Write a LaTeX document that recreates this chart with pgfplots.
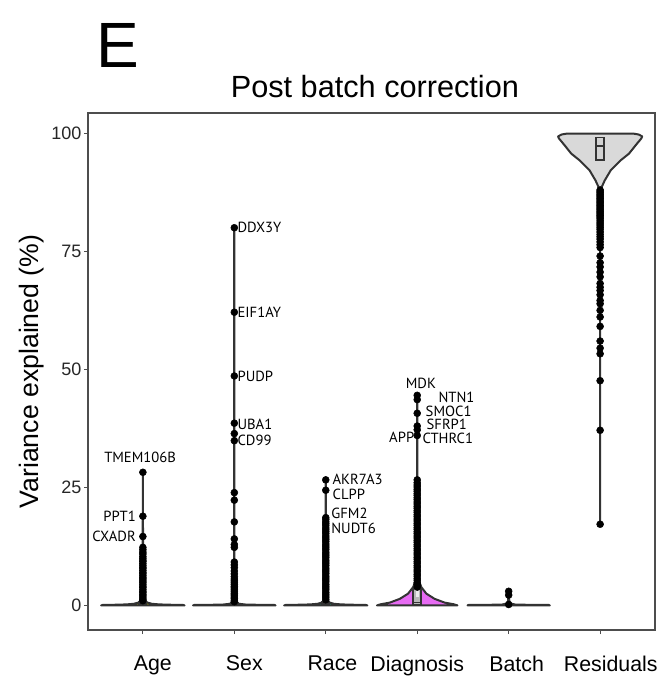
\documentclass[border=0pt]{standalone}
\usepackage{pgfplots}
\pgfplotsset{compat=1.18}
\usepackage{fontspec}
\setmainfont{Liberation Sans}
\newfontfamily\genefont{PT Sans}

\definecolor{vAge}{HTML}{A3A500}
\definecolor{vSex}{HTML}{F8766D}
\definecolor{vRace}{HTML}{00BF7D}
\definecolor{vBatch}{HTML}{00B0F6}
\definecolor{vDiag}{HTML}{E76BF3}
\definecolor{vRes}{HTML}{D9D9D9}
\definecolor{edge}{HTML}{333333}
\definecolor{frame}{HTML}{4D4D4D}

\tikzset{
  gene/.style={font=\genefont\fontsize{11}{12}\selectfont, inner sep=0pt},
  violin/.style={draw=edge, line width=1.5pt, line join=round},
}
\pgfplotsset{
  pts/.style={only marks, mark=*, mark size=2.6pt, mark options={fill=black, draw=black}},
}

\begin{document}
\begin{tikzpicture}
\path[use as bounding box] (0pt,0pt) rectangle (494.25pt,509.25pt);
\begin{axis}[
  at={(66pt,36.75pt)}, anchor=south west,
  scale only axis, width=425.25pt, height=387.75pt,
  xmin=0.4, xmax=6.6, ymin=-5.2, ymax=104.3,
  xtick={1,2,3,4,5,6},
  xticklabels={\kern15pt Age,\kern15pt Sex,\kern10pt Race,Diagnosis,\kern12pt Batch,\kern16pt Residuals},
  ytick={0,25,50,75,100},
  xtick pos=bottom, ytick pos=left,
  /pgf/number format/assume math mode=true,
  tick align=outside, major tick length=3pt,
  tick style={frame, line width=0.8pt},
  axis line style={frame, line width=0.9pt},
  xticklabel style={font=\fontsize{16}{19}\selectfont, text=black, yshift=-13pt},
  yticklabel style={font=\fontsize{13.5}{16}\selectfont, text=black!85, xshift=1.5pt},
  ylabel={Variance explained (\%)},
  ylabel style={font=\fontsize{20}{24}\selectfont, at={(axis description cs:-0.099,0.5)}, anchor=center},
  title={Post batch correction},
  title style={font=\fontsize{23}{27}\selectfont, at={(axis description cs:0.506,1.035)}, anchor=center},
  clip=false,
]

% violins
\addplot[violin, fill=vAge] coordinates {
 (0.544,0) (0.56,0.1) (0.7,0.15) (0.82,0.22) (0.9,0.35) (0.95,0.6) (0.975,1.0)
 (0.988,1.6) (0.995,2.6) (0.998,5) (0.9992,28.2) (1.0008,28.2) (1.002,5)
 (1.005,2.6) (1.012,1.6) (1.025,1.0) (1.05,0.6) (1.1,0.35) (1.18,0.22)
 (1.3,0.15) (1.44,0.1) (1.456,0)} --cycle;
\addplot[violin, fill=vSex] coordinates {
 (1.549,0) (1.56,0.1) (1.75,0.14) (1.88,0.2) (1.95,0.35) (1.98,0.7)
 (1.993,1.5) (1.998,4) (1.9992,80.0) (2.0008,80.0) (2.002,4) (2.007,1.5)
 (2.02,0.7) (2.05,0.35) (2.12,0.2) (2.25,0.14) (2.44,0.1) (2.451,0)} --cycle;
\addplot[violin, fill=vRace] coordinates {
 (2.545,0) (2.56,0.1) (2.7,0.15) (2.83,0.22) (2.91,0.35) (2.955,0.6) (2.978,1.0)
 (2.99,1.6) (2.996,2.6) (2.998,5) (2.9992,26.6) (3.0008,26.6) (3.002,5)
 (3.004,2.6) (3.01,1.6) (3.022,1.0) (3.045,0.6) (3.09,0.35) (3.17,0.22)
 (3.3,0.15) (3.44,0.1) (3.455,0)} --cycle;
\addplot[violin, fill=vDiag] coordinates {
 (3.56,0) (3.6,0.25) (3.7,0.6) (3.81,1.4) (3.9,2.5) (3.956,3.9) (3.985,5.5)
 (3.995,6.7) (3.998,10) (3.9992,44.5) (4.0008,44.5) (4.002,10) (4.005,6.7)
 (4.015,5.5) (4.044,3.9) (4.1,2.5) (4.19,1.4) (4.3,0.6) (4.4,0.25) (4.44,0)} --cycle;
\addplot[violin, fill=vBatch] coordinates {
 (4.55,0) (4.56,0.1) (4.8,0.14) (4.93,0.2) (4.975,0.4) (4.993,0.9)
 (4.9985,3.0) (5.0015,3.0) (5.007,0.9) (5.025,0.4) (5.07,0.2) (5.2,0.14)
 (5.44,0.1) (5.45,0)} --cycle;
\addplot[violin, fill=vRes] coordinates {
 (5.9992,17.2) (5.999,87.0) (5.99,88.3) (5.95,90.0) (5.883,92.2) (5.774,94.3)
 (5.684,95.7) (5.61,97.5) (5.55,98.9) (5.54,99.35) (5.58,99.75) (5.64,99.95)
 (6.36,99.95) (6.42,99.75) (6.46,99.35) (6.45,98.9) (6.39,97.5) (6.316,95.7)
 (6.226,94.3) (6.117,92.2) (6.05,90.0) (6.01,88.3) (6.001,87.0) (6.0008,17.2)} --cycle;

% boxes
\addplot[draw=edge, fill=edge, line width=0.8pt] coordinates {(0.958,0) (1.042,0) (1.042,0.8) (0.958,0.8)} --cycle;
\addplot[draw=edge, fill=edge, line width=0.8pt] coordinates {(1.958,0) (2.042,0) (2.042,0.6) (1.958,0.6)} --cycle;
\addplot[draw=edge, fill=edge, line width=0.8pt] coordinates {(2.958,0) (3.042,0) (3.042,0.8) (2.958,0.8)} --cycle;
\addplot[draw=edge, fill=gray!55, line width=1.3pt] coordinates {(3.955,0.1) (4.045,0.1) (4.045,3.6) (3.955,3.6)} --cycle;
\addplot[draw=none, fill=gray!15] coordinates {(3.982,1.8) (4.018,1.8) (4.018,3.0) (3.982,3.0)} --cycle;
\addplot[draw=edge, line width=1.3pt] coordinates {(3.955,0.6) (4.045,0.6)};
\addplot[draw=edge, fill=gray!35, line width=1.3pt] coordinates {(5.956,94.3) (6.044,94.3) (6.044,99.1) (5.956,99.1)} --cycle;
\addplot[draw=edge, line width=1.3pt] coordinates {(5.956,97.3) (6.044,97.3)};

% outlying genes
\addplot[pts] coordinates {
 (1,28.2) (1,18.9) (1,14.6) (1,12.3) (1,11.8) (1,11.3) (1,10.9) (1,10.4) (1,10.0)
 (1,9.6) (1,9.3) (1,8.9) (1,8.5) (1,8.1) (1,7.8) (1,7.4) (1,7.0) (1,6.7) (1,6.3)
 (1,5.9) (1,5.6) (1,5.2) (1,4.9) (1,4.5) (1,4.1) (1,3.8) (1,3.4) (1,3.0) (1,2.7)
 (1,2.3) (1,2.0) (1,1.6) (1,1.3) (1,1.0)};
\addplot[pts] coordinates {
 (2,80.0) (2,62.1) (2,48.6) (2,38.6) (2,36.4) (2,34.9) (2,23.9) (2,22.3) (2,17.7)
 (2,14.1) (2,12.9) (2,12.3) (2,9.2) (2,8.6) (2,8.0) (2,7.3) (2,6.7) (2,6.1) (2,5.6)
 (2,5.2) (2,4.8) (2,4.4) (2,4.0) (2,3.7) (2,3.3) (2,2.9) (2,2.5) (2,2.2) (2,1.8)
 (2,1.5) (2,1.1) (2,0.8)};
\addplot[pts] coordinates {
 (3,26.6) (3,24.4) (3,18.6) (3,18.2) (3,17.7) (3,17.3) (3,16.9) (3,16.4) (3,16.0)
 (3,15.6) (3,15.2) (3,14.7) (3,14.3) (3,13.9) (3,13.5) (3,13.0) (3,12.6) (3,12.2)
 (3,11.8) (3,11.3) (3,10.9) (3,10.5) (3,10.1) (3,9.6) (3,9.2) (3,8.8) (3,8.4) (3,7.9)
 (3,7.5) (3,7.1) (3,6.7) (3,6.2) (3,5.8) (3,5.4) (3,5.0) (3,4.5) (3,4.1) (3,3.7)
 (3,3.3) (3,2.8) (3,2.4) (3,2.0) (3,1.6) (3,1.2)};
\addplot[pts] coordinates {
 (4,44.5) (4,43.6) (4,40.7) (4,38.0) (4,37.2) (4,36.0) (4,26.6) (4,26.0) (4,25.5)
 (4,25.1) (4,24.6) (4,24.2) (4,23.7) (4,23.3) (4,22.8) (4,22.4) (4,21.9) (4,21.5)
 (4,21.0) (4,20.6) (4,20.1) (4,19.7) (4,19.2) (4,18.8) (4,18.3) (4,17.9) (4,17.4)
 (4,17.0) (4,16.5) (4,16.1) (4,15.6) (4,15.2) (4,14.7) (4,14.3) (4,13.8) (4,13.4)
 (4,12.9) (4,12.5) (4,12.0) (4,11.6) (4,11.1) (4,10.7) (4,10.2) (4,9.8) (4,9.3)
 (4,8.9) (4,8.4) (4,8.0) (4,7.5) (4,7.1) (4,6.6) (4,6.2) (4,5.7) (4,5.3) (4,4.8)
 (4,4.4) (4,3.9)};
\addplot[pts] coordinates {(5,3.0) (5,2.2) (5,0.2)};
\addplot[pts] coordinates {
 (6,88.0) (6,87.7) (6,87.4) (6,87.1) (6,86.8) (6,86.5) (6,86.2) (6,85.9) (6,85.6)
 (6,85.3) (6,85.0) (6,84.7) (6,84.4) (6,84.1) (6,83.8) (6,83.5) (6,83.2) (6,82.9)
 (6,82.6) (6,82.3) (6,82.0) (6,81.6) (6,81.2) (6,80.8) (6,80.4) (6,80.0) (6,79.6)
 (6,79.1) (6,78.6) (6,78.1) (6,77.6) (6,77.0) (6,76.4) (6,75.8) (6,74.0) (6,72.6)
 (6,71.7) (6,70.6) (6,69.6) (6,68.2) (6,67.4) (6,66.7) (6,65.8) (6,64.6) (6,63.9)
 (6,62.5) (6,61.1) (6,59.1) (6,56.0) (6,54.5) (6,53.3) (6,47.6) (6,37.1) (6,17.2)};

% gene names
\node[gene, anchor=center] at (axis cs:0.97,31.4) {TMEM106B};
\node[gene, anchor=east] at (axis cs:0.925,18.9) {PPT1};
\node[gene, anchor=east] at (axis cs:0.925,14.6) {CXADR};
\node[gene, anchor=west] at (axis cs:2.033,80.0) {DDX3Y};
\node[gene, anchor=west] at (axis cs:2.033,62.1) {EIF1AY};
\node[gene, anchor=west] at (axis cs:2.033,48.6) {PUDP};
\node[gene, anchor=west] at (axis cs:2.033,38.4) {UBA1};
\node[gene, anchor=west] at (axis cs:2.033,35.0) {CD99};
\node[gene, anchor=west] at (axis cs:3.072,26.8) {AKR7A3};
\node[gene, anchor=west] at (axis cs:3.072,23.5) {CLPP};
\node[gene, anchor=west] at (axis cs:3.058,19.4) {GFM2};
\node[gene, anchor=west] at (axis cs:3.058,16.3) {NUDT6};
\node[gene, anchor=center] at (axis cs:4.04,47.1) {MDK};
\node[gene, anchor=west] at (axis cs:4.23,44.1) {NTN1};
\node[gene, anchor=west] at (axis cs:4.09,41.2) {SMOC1};
\node[gene, anchor=west] at (axis cs:4.10,38.3) {SFRP1};
\node[gene, anchor=west] at (axis cs:4.056,35.4) {CTHRC1};
\node[gene, anchor=east] at (axis cs:3.97,35.6) {APP};

% panel letter
\node[font=\fontsize{48}{52}\selectfont, anchor=center] at (axis description cs:0.053,1.131) {E};
\end{axis}
\end{tikzpicture}
\end{document}
